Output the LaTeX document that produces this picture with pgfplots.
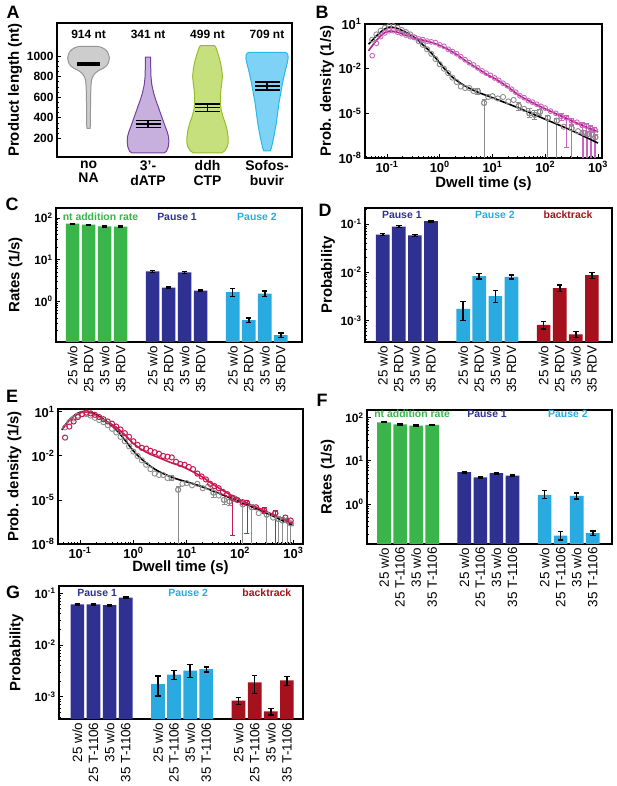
\documentclass[border=0pt]{standalone}
\usepackage{fontspec}
\setmainfont{Liberation Sans}
\usepackage{pgfplots}
\usepackage{pgfplotstable}
\pgfplotsset{compat=1.18}

\definecolor{ntgreen}{RGB}{57,181,74}
\definecolor{pnavy}{RGB}{46,49,146}
\definecolor{pcyan}{RGB}{41,171,226}
\definecolor{btred}{RGB}{166,17,30}
\definecolor{dgray}{RGB}{140,140,140}
\definecolor{magline}{RGB}{175,35,135}
\definecolor{magpt}{RGB}{205,100,190}
\definecolor{crim}{RGB}{200,25,80}
\definecolor{vgrayf}{RGB}{205,205,205}\definecolor{vgrayd}{RGB}{150,150,150}
\definecolor{vpurf}{RGB}{200,176,222}\definecolor{vpurd}{RGB}{115,65,160}
\definecolor{vgrnf}{RGB}{198,224,125}\definecolor{vgrnd}{RGB}{150,190,40}
\definecolor{vbluf}{RGB}{125,210,245}\definecolor{vblud}{RGB}{40,185,235}

\newcommand{\tp}[1]{10\textsuperscript{#1}}

\pgfplotsset{
  mypanel/.style={scale only axis, anchor=south west,
    axis line style={line width=1.4pt}, tick style={black, line width=0.9pt},
    tick pos=left, major tick length=4pt, minor tick length=2.2pt,
    ticklabel style={font=\fontsize{12}{12}\selectfont\bfseries},
    label style={font=\fontsize{15}{16}\selectfont\bfseries}},
  mybarpanel/.style={mypanel,
    xtick={0,1,2,3,5,6,7,8,10,11,12,13}, xtick style={draw=none},
    xticklabel style={rotate=90, anchor=east, font=\fontsize{13.5}{14}\selectfont}},
  mybars/.style={ybar, bar width=0.85, bar shift=0pt, draw=none, fill=#1,
    error bars/y dir=both, error bars/y explicit,
    error bars/error bar style={black, line width=1.6pt},
    error bars/error mark options={rotate=90, black, line width=1.4pt, mark size=2.8pt}},
  myerrs/.style={error bars/y dir=both, error bars/y explicit,
    error bars/error bar style={#1, line width=0.9pt},
    error bars/error mark options={rotate=90, #1, line width=0.9pt, mark size=2.5pt}},
  mydwell/.style={mypanel,
    xtick={0.1,1,10,100,1000}, xticklabels={\tp{-1},\tp{0},\tp{1},\tp{2},\tp{3}},
    minor xtick={0.04,0.05,0.06,0.07,0.08,0.09,0.2,0.3,0.4,0.5,0.6,0.7,0.8,0.9,2,3,4,5,6,7,8,9,20,30,40,50,60,70,80,90,200,300,400,500,600,700,800,900},
    ytick={1e-8,1e-5,1e-2,10}, yticklabels={\tp{-8},\tp{-5},\tp{-2},\tp{1}},
    ticklabel style={font=\fontsize{13}{13}\selectfont\bfseries},
    xlabel={Dwell time (s)}, ylabel={Prob. density (1/s)}},
  graypts/.style={only marks, mark=o, mark size=2.6pt, dgray, mark options={line width=0.9pt}},
  magpts/.style={only marks, mark=o, mark size=2.4pt, magpt, mark options={line width=0.9pt}},
  crimpts/.style={only marks, mark=o, mark size=2.6pt, crim, mark options={line width=1pt}},
}

% control dwell-time data (grey), shared by B and E
\pgfplotstableread{
x y
0.0525 0.891
0.0631 1.995
0.0759 3.548
0.0912 5.623
0.1096 7.079
0.1318 7.079
0.1585 5.623
0.1905 3.981
0.2291 2.818
0.2754 1.995
0.3311 1.259
0.3981 0.708
0.4786 0.398
0.5754 0.1995
0.6918 0.1
0.8318 0.0447
1.0 0.01995
1.202 0.01
1.445 5.01e-3
1.738 2.51e-3
2.089 1.26e-3
2.512 6.31e-4
3.02 5.01e-4
3.631 5.01e-4
4.365 3.16e-4
5.248 3.16e-4
6.918 5.01e-5
8.318 1.26e-4
10 1.41e-4
12.59 1e-4
15.85 1.26e-4
19.95 6.31e-5
25.12 7.94e-5
31.62 3.16e-5
39.81 2.0e-5
50.12 1e-5
63.1 7.94e-6
79.43 1.26e-5
112.2 5.01e-6
166 3.16e-6
223.9 1.26e-6
316.2 1e-6
416.9 6.31e-7
524.8 5.01e-7
631 3.98e-7
758.6 3.98e-7
891.3 2.51e-7
}\graydata
\pgfplotstableread{
x y ep em
5.248 3.16e-4 1.85e-4 1.16e-4
6.918 5.01e-5 3.9e-5 5.0099e-5
31.62 3.16e-5 2.5e-5 1.6e-5
50.12 1e-5 1e-5 5e-6
63.1 7.94e-6 7.9e-6 4e-6
79.43 1.26e-5 6e-6 5e-6
112.2 5.01e-6 2e-6 5.009e-6
166 3.16e-6 1.5e-6 3.159e-6
316.2 1e-6 5e-7 9.99e-7
524.8 5.01e-7 2e-7 4.99e-7
631 3.98e-7 2e-7 3.97e-7
758.6 3.98e-7 1.5e-7 3.97e-7
891.3 2.51e-7 1.2e-7 2.5e-7
}\grayerr

\pgfplotstableread{
x y
0.0525 0.0741
0.0631 0.501
0.0759 1.413
0.0912 2.512
0.1096 3.548
0.1318 3.548
0.1585 2.818
0.1905 2.239
0.2291 1.778
0.2754 1.413
0.3311 1.259
0.3981 1.0
0.4786 0.891
0.5754 0.708
0.6918 0.631
0.8318 0.562
1.0 0.398
1.202 0.316
1.445 0.1995
1.738 0.1413
2.089 0.1
2.512 0.0631
3.02 0.0398
3.631 0.0251
4.365 0.0178
5.248 0.0112
6.31 7.08e-3
7.586 5.01e-3
9.12 3.55e-3
10.96 2.38e-3
13.18 1.66e-3
15.85 1.05e-3
19.05 7.08e-4
22.91 4.17e-4
27.54 2.63e-4
33.11 1.5e-4
39.81 1.12e-4
47.86 7.08e-5
57.54 5.62e-5
69.18 4.07e-5
83.18 2.95e-5
100 2.24e-5
125.9 1.41e-5
158.5 1.0e-5
199.5 6.31e-6
251.2 5.01e-6
316.2 3.16e-6
398.1 2.51e-6
501.2 1.585e-6
602.6 1.41e-6
724.4 1e-6
871 7.94e-7
}\magdata
\pgfplotstableread{
x y ep em
199.5 6.31e-6 3e-6 3e-6
251.2 5.01e-6 2e-6 4.96e-6
316.2 3.16e-6 1.5e-6 1.5e-6
501.2 1.585e-6 8e-7 1.584e-6
602.6 1.41e-6 7e-7 1.409e-6
724.4 1e-6 5e-7 9.99e-7
871 7.94e-7 4e-7 7.93e-7
}\magerr

\pgfplotstableread{
x y
0.0525 0.178
0.0631 1.0
0.0759 2.239
0.0912 4.467
0.1096 7.079
0.1318 8.913
0.1585 7.943
0.1905 6.31
0.2291 4.467
0.2754 3.162
0.3311 2.239
0.3981 1.585
0.4786 1.0
0.5754 0.631
0.6918 0.355
0.8318 0.1995
1.0 0.1
1.202 0.0562
1.445 0.0355
1.738 0.0316
2.089 0.0224
2.512 0.0178
3.02 0.0141
3.631 0.01
4.365 8.91e-3
5.248 7.94e-3
6.31 3.98e-3
7.586 2.82e-3
9.12 2.51e-3
10.96 1.78e-3
13.18 1.26e-3
15.85 6.31e-4
19.05 3.98e-4
22.91 2.51e-4
27.54 1.26e-4
33.11 8.91e-5
39.81 6.31e-5
47.86 3.55e-5
57.54 2.51e-5
70.79 1.41e-5
89.13 1e-5
112.2 7.08e-6
134.9 6.31e-6
199.5 3.16e-6
281.8 2.0e-6
457.1 1.26e-6
707.9 6.31e-7
891.3 3.98e-7
}\crimdata
\pgfplotstableread{
x y ep em
70.79 1.41e-5 4e-6 1.406e-5
134.9 6.31e-6 2.5e-6 6.26e-6
281.8 2.0e-6 1e-6 8e-7
457.1 1.26e-6 6e-7 1.259e-6
}\crimerr

\begin{document}
\begin{tikzpicture}
\path[use as bounding box] (0,0) rectangle (617bp,786bp);

% ---------------- A: violins
\begin{axis}[mypanel, at={(57bp,629bp)}, width=235bp, height=134bp,
  xmin=0.47, xmax=4.42, ymin=20, ymax=1322,
  ytick={200,400,600,800,1000}, yticklabels={200,400,600,800,1000},
  minor y tick num=3,
  xtick={1,2,3,4}, xticklabels={{no\\NA},{3’-\\dATP},{ddh\\CTP},{Sofos-\\buvir}},
  xtick style={draw=none},
  xticklabel style={align=center, font=\fontsize{14}{15}\selectfont\bfseries},
  ylabel={Product length (nt)},
  ylabel style={at={(axis description cs:-0.179,0.5)}, anchor=center}]
\addplot[fill=vgrayf, draw=vgrayd, line width=1pt] coordinates {
 (0.975,298) (0.97,320) (0.968,450) (0.965,600) (0.96,700) (0.95,769) (0.93,800)
 (0.89,834) (0.83,860) (0.75,883) (0.70,905) (0.67,930) (0.655,960) (0.65,985)
 (0.66,1010) (0.68,1040) (0.72,1065) (0.78,1085) (0.84,1094)
 (1.16,1094) (1.22,1085) (1.28,1065) (1.32,1040) (1.34,1010) (1.35,985) (1.345,960)
 (1.33,930) (1.30,905) (1.25,883) (1.17,860) (1.11,834) (1.07,800) (1.05,769)
 (1.04,700) (1.035,600) (1.032,450) (1.03,320) (1.025,298)} -- cycle;
\addplot[fill=vpurf, draw=vpurd, line width=1pt] coordinates {
 (1.73,60) (1.69,75) (1.66,119) (1.65,170) (1.655,216) (1.675,260) (1.71,314)
 (1.75,379) (1.79,444) (1.83,510) (1.87,574) (1.905,640) (1.93,704) (1.94,737)
 (1.95,800) (1.955,900) (1.955,990)
 (2.045,990) (2.045,900) (2.05,800) (2.06,737) (2.07,704) (2.095,640) (2.13,574)
 (2.17,510) (2.21,444) (2.25,379) (2.29,314) (2.325,260) (2.345,216) (2.35,170)
 (2.34,119) (2.31,75) (2.27,60)} -- cycle;
\addplot[fill=vgrnf, draw=vgrnd, line width=1pt] coordinates {
 (2.76,60) (2.71,80) (2.67,119) (2.655,151) (2.655,216) (2.67,281) (2.70,346)
 (2.74,411) (2.77,476) (2.785,541) (2.785,607) (2.775,672) (2.76,737) (2.75,802)
 (2.76,867) (2.78,932) (2.81,997) (2.84,1050) (2.86,1085) (2.88,1101)
 (3.12,1101) (3.14,1085) (3.16,1050) (3.19,997) (3.22,932) (3.24,867) (3.25,802)
 (3.24,737) (3.225,672) (3.215,607) (3.215,541) (3.23,476) (3.26,411) (3.30,346)
 (3.33,281) (3.345,216) (3.345,151) (3.33,119) (3.29,80) (3.24,60)} -- cycle;
\addplot[fill=vbluf, draw=vblud, line width=1pt] coordinates {
 (3.945,80) (3.93,102) (3.91,151) (3.885,216) (3.865,281) (3.845,346) (3.83,411)
 (3.815,476) (3.80,541) (3.78,607) (3.76,672) (3.74,737) (3.715,802) (3.69,867)
 (3.66,932) (3.645,980) (3.65,1015) (3.67,1030) (3.70,1036)
 (4.30,1036) (4.33,1030) (4.35,1015) (4.355,980) (4.34,932) (4.31,867) (4.285,802)
 (4.26,737) (4.24,672) (4.22,607) (4.20,541) (4.185,476) (4.17,411) (4.155,346)
 (4.135,281) (4.115,216) (4.09,151) (4.07,102) (4.055,80)} -- cycle;
% means and standard errors
\addplot[black, line width=4pt] coordinates {(0.81,925) (1.19,925)};
\addplot[black, line width=1.5pt] coordinates {(1.79,305) (2.21,305)};
\addplot[black, line width=1.5pt] coordinates {(1.79,341) (2.21,341)};
\addplot[black, line width=1.5pt] coordinates {(1.79,377) (2.21,377)};
\addplot[black, line width=1.5pt] coordinates {(2,305) (2,377)};
\addplot[black, line width=1.5pt] coordinates {(2.79,464) (3.21,464)};
\addplot[black, line width=1.5pt] coordinates {(2.79,499) (3.21,499)};
\addplot[black, line width=1.5pt] coordinates {(2.79,534) (3.21,534)};
\addplot[black, line width=1.5pt] coordinates {(3,464) (3,534)};
\addplot[black, line width=1.5pt] coordinates {(3.79,670) (4.21,670)};
\addplot[black, line width=1.5pt] coordinates {(3.79,709) (4.21,709)};
\addplot[black, line width=1.5pt] coordinates {(3.79,748) (4.21,748)};
\addplot[black, line width=1.5pt] coordinates {(4,670) (4,748)};
\node[font=\fontsize{12}{12}\selectfont\bfseries] at (axis cs:1,1208) {914 nt};
\node[font=\fontsize{12}{12}\selectfont\bfseries] at (axis cs:2,1208) {341 nt};
\node[font=\fontsize{12}{12}\selectfont\bfseries] at (axis cs:3,1208) {499 nt};
\node[font=\fontsize{12}{12}\selectfont\bfseries] at (axis cs:4,1208) {709 nt};
\end{axis}

% ---------------- B: dwell times, control vs drug
\begin{axis}[mydwell, xmode=log, ymode=log, at={(365bp,628bp)}, width=237bp, height=134bp,
  xmin=0.0383, xmax=1190, ymin=1e-8, ymax=10,
  ylabel style={at={(axis description cs:-0.16,0.5)}, anchor=center},
  xlabel style={at={(axis description cs:0.5,-0.194)}, anchor=center}]
\addplot[graypts, myerrs=dgray] table[x=x, y=y, y error plus=ep, y error minus=em] {\grayerr};
\addplot[graypts] table[x=x, y=y] {\graydata};
\addplot[magpts, myerrs=magpt] table[x=x, y=y, y error plus=ep, y error minus=em] {\magerr};
\addplot[magpts] table[x=x, y=y] {\magdata};
\addplot[black, line width=1.6pt, smooth] coordinates {
 (0.0447,0.437) (0.0631,1.585) (0.0891,4.467) (0.1148,6.31) (0.1585,5.012)
 (0.2239,2.818) (0.3162,1.413) (0.4467,0.501) (0.631,0.158) (0.8913,0.0398)
 (1.259,8.91e-3) (1.778,2.51e-3) (2.818,7.94e-4) (5.012,2.82e-4) (10,1.12e-4)
 (31.62,2.24e-5) (100,3.98e-6) (316.2,7.08e-7) (1000,1e-7)};
\addplot[magline, line width=1.6pt, smooth] coordinates {
 (0.0447,0.158) (0.0631,0.794) (0.0891,2.512) (0.1148,3.388) (0.1585,2.818)
 (0.2239,1.778) (0.3162,1.202) (0.5012,0.794) (0.7943,0.501) (1.259,0.251)
 (1.995,0.1) (3.162,0.0316) (5.012,0.0112) (7.943,3.98e-3) (12.59,1.66e-3)
 (19.95,5.62e-4) (31.62,1.66e-4) (50.12,6.61e-5) (100,2.0e-5) (316.2,3.16e-6)
 (1000,5.62e-7)};
\end{axis}

% ---------------- C: rates with RDV
\begin{axis}[mybarpanel, ymode=log, log origin=infty, at={(56bp,444bp)}, width=246bp, height=134bp,
  xmin=-1.04, xmax=14.33, ymin=0.106, ymax=174,
  ytick={1,10,100}, yticklabels={\tp{0},\tp{1},\tp{2}},
  minor ytick={0.2,0.3,0.4,0.5,0.6,0.7,0.8,0.9,2,3,4,5,6,7,8,9,20,30,40,50,60,70,80,90},
  xticklabels={25 w/o,25 RDV,35 w/o,35 RDV,25 w/o,25 RDV,35 w/o,35 RDV,25 w/o,25 RDV,35 w/o,35 RDV},
  ylabel={Rates (1/s)},
  ylabel style={at={(axis description cs:-0.165,0.5)}, anchor=center}]
\addplot[mybars=ntgreen] coordinates {(0,73) +- (0,2) (1,69) +- (0,2) (2,63) +- (0,2) (3,62) +- (0,2)};
\addplot[mybars=pnavy] coordinates {(5,5.25) +- (0,0.25) (6,2.13) +- (0,0.1) (7,4.97) +- (0,0.25) (8,1.8) +- (0,0.08)};
\addplot[mybars=pcyan] coordinates {(10,1.67) += (0,0.34) -= (0,0.35) (11,0.356) +- (0,0.042)
  (12,1.53) += (0,0.24) -= (0,0.21) (13,0.155) +- (0,0.02)};
\node[font=\fontsize{10.5}{11}\selectfont\bfseries, text=ntgreen] at (axis description cs:0.181,0.935) {nt addition rate};
\node[font=\fontsize{10.5}{11}\selectfont\bfseries, text=pnavy] at (axis description cs:0.492,0.935) {Pause 1};
\node[font=\fontsize{10.5}{11}\selectfont\bfseries, text=pcyan] at (axis description cs:0.817,0.935) {Pause 2};
\end{axis}

% ---------------- D: probabilities with RDV
\begin{axis}[mybarpanel, ymode=log, log origin=infty, at={(365bp,444bp)}, width=247bp, height=134bp,
  xmin=-1.1, xmax=14.25, ymin=3.6e-4, ymax=0.214,
  ytick={1e-3,1e-2,1e-1}, yticklabels={\tp{-3},\tp{-2},\tp{-1}},
  minor ytick={4e-4,5e-4,6e-4,7e-4,8e-4,9e-4,2e-3,3e-3,4e-3,5e-3,6e-3,7e-3,8e-3,9e-3,0.02,0.03,0.04,0.05,0.06,0.07,0.08,0.09,0.2},
  xticklabels={25 w/o,25 RDV,35 w/o,35 RDV,25 w/o,25 RDV,35 w/o,35 RDV,25 w/o,25 RDV,35 w/o,35 RDV},
  ylabel={Probability},
  ylabel style={at={(axis description cs:-0.15,0.5)}, anchor=center}]
\addplot[mybars=pnavy] coordinates {(0,0.060) +- (0,0.003) (1,0.088) +- (0,0.004) (2,0.058) +- (0,0.003) (3,0.114) +- (0,0.004)};
\addplot[mybars=pcyan] coordinates {(5,1.75e-3) +- (0,0.75e-3) (6,8.3e-3) +- (0,1.1e-3)
  (7,3.2e-3) += (0,1.05e-3) -= (0,0.8e-3) (8,8.0e-3) +- (0,0.8e-3)};
\addplot[mybars=btred] coordinates {(10,8.1e-4) +- (0,1.4e-4) (11,4.7e-3) +- (0,0.7e-3)
  (12,5.2e-4) +- (0,0.75e-4) (13,8.7e-3) +- (0,1.2e-3)};
\node[font=\fontsize{10.5}{11}\selectfont\bfseries, text=pnavy] at (axis description cs:0.149,0.948) {Pause 1};
\node[font=\fontsize{10.5}{11}\selectfont\bfseries, text=pcyan] at (axis description cs:0.526,0.948) {Pause 2};
\node[font=\fontsize{10.5}{11}\selectfont\bfseries, text=btred] at (axis description cs:0.822,0.948) {backtrack};
\end{axis}

% ---------------- E: dwell times, control vs T-1106
\begin{axis}[mydwell, xmode=log, ymode=log, at={(58bp,242bp)}, width=245bp, height=135bp,
  xmin=0.0387, xmax=1514, ymin=1e-8, ymax=15.8,
  ylabel style={at={(axis description cs:-0.178,0.5)}, anchor=center},
  xlabel style={at={(axis description cs:0.5,-0.174)}, anchor=center}]
\addplot[graypts, myerrs=dgray] table[x=x, y=y, y error plus=ep, y error minus=em] {\grayerr};
\addplot[graypts] table[x=x, y=y] {\graydata};
\addplot[crimpts, myerrs=crim] table[x=x, y=y, y error plus=ep, y error minus=em] {\crimerr};
\addplot[crimpts] table[x=x, y=y] {\crimdata};
\addplot[black, line width=1.6pt, smooth] coordinates {
 (0.0457,0.603) (0.0631,2.818) (0.0891,7.943) (0.1259,11.22) (0.1778,7.943)
 (0.2512,3.981) (0.3548,1.585) (0.5012,0.501) (0.7079,0.1122) (1.0,0.0224)
 (1.413,6.31e-3) (1.995,2.24e-3) (3.162,7.94e-4) (6.31,2.82e-4) (17.78,8.91e-5)
 (75.86,1.12e-5) (316.2,1.26e-6) (1000,1.78e-7)};
\addplot[crim, line width=1.6pt, smooth] coordinates {
 (0.0468,0.692) (0.0631,2.818) (0.0891,7.079) (0.1259,10) (0.1778,7.079)
 (0.2512,3.548) (0.3548,1.778) (0.5012,0.794) (0.7079,0.251) (1.0,0.0708)
 (1.413,0.0282) (1.995,0.0141) (3.162,7.08e-3) (5.012,3.55e-3) (7.943,2.0e-3)
 (12.59,8.91e-4) (19.95,3.55e-4) (31.62,1.12e-4) (50.12,3.98e-5) (100,1e-5)
 (316.2,1.585e-6) (1000,2.24e-7)};
\end{axis}

% ---------------- F: rates with T-1106
\begin{axis}[mybarpanel, ymode=log, log origin=infty, at={(367bp,242bp)}, width=245bp, height=134bp,
  xmin=-1.06, xmax=14.2, ymin=0.121, ymax=150,
  ytick={1,10,100}, yticklabels={\tp{0},\tp{1},\tp{2}},
  minor ytick={0.2,0.3,0.4,0.5,0.6,0.7,0.8,0.9,2,3,4,5,6,7,8,9,20,30,40,50,60,70,80,90},
  xticklabels={25 w/o,25 T-1106,35 w/o,35 T-1106,25 w/o,25 T-1106,35 w/o,35 T-1106,25 w/o,25 T-1106,35 w/o,35 T-1106},
  ylabel={Rates (1/s)},
  ylabel style={at={(axis description cs:-0.16,0.5)}, anchor=center}]
\addplot[mybars=ntgreen] coordinates {(0,78) +- (0,2) (1,70) +- (0,2) (2,65) +- (0,2) (3,68) +- (0,2)};
\addplot[mybars=pnavy] coordinates {(5,5.5) +- (0,0.2) (6,4.2) +- (0,0.15) (7,5.2) +- (0,0.2) (8,4.6) +- (0,0.15)};
\addplot[mybars=pcyan] coordinates {(10,1.64) += (0,0.46) -= (0,0.27) (11,0.19) += (0,0.048) -= (0,0.04)
  (12,1.56) += (0,0.26) -= (0,0.23) (13,0.215) +- (0,0.027)};
\node[font=\fontsize{10.5}{11}\selectfont\bfseries, text=ntgreen] at (axis description cs:0.184,0.97) {nt addition rate};
\node[font=\fontsize{10.5}{11}\selectfont\bfseries, text=pnavy] at (axis description cs:0.49,0.97) {Pause 1};
\node[font=\fontsize{10.5}{11}\selectfont\bfseries, text=pcyan] at (axis description cs:0.82,0.97) {Pause 2};
\end{axis}

% ---------------- G: probabilities with T-1106
\begin{axis}[mybarpanel, ymode=log, log origin=infty, at={(59bp,67bp)}, width=244bp, height=133bp,
  xmin=-1.14, xmax=14.0, ymin=3.7e-4, ymax=0.138,
  ytick={1e-3,1e-2,1e-1}, yticklabels={\tp{-3},\tp{-2},\tp{-1}},
  minor ytick={4e-4,5e-4,6e-4,7e-4,8e-4,9e-4,2e-3,3e-3,4e-3,5e-3,6e-3,7e-3,8e-3,9e-3,0.02,0.03,0.04,0.05,0.06,0.07,0.08,0.09},
  xticklabels={25 w/o,25 T-1106,35 w/o,35 T-1106,25 w/o,25 T-1106,35 w/o,35 T-1106,25 w/o,25 T-1106,35 w/o,35 T-1106},
  ylabel={Probability},
  ylabel style={at={(axis description cs:-0.174,0.5)}, anchor=center}]
\addplot[mybars=pnavy] coordinates {(0,0.061) +- (0,0.002) (1,0.061) +- (0,0.002) (2,0.059) +- (0,0.002) (3,0.082) +- (0,0.003)};
\addplot[mybars=pcyan] coordinates {(5,1.75e-3) += (0,0.75e-3) -= (0,0.72e-3) (6,2.67e-3) +- (0,0.5e-3)
  (7,3.2e-3) += (0,1.0e-3) -= (0,0.87e-3) (8,3.4e-3) +- (0,0.38e-3)};
\addplot[mybars=btred] coordinates {(10,8.4e-4) +- (0,1.3e-4) (11,1.9e-3) += (0,0.7e-3) -= (0,0.74e-3)
  (12,5.2e-4) +- (0,0.75e-4) (13,2.07e-3) +- (0,0.41e-3)};
\node[font=\fontsize{10.5}{11}\selectfont\bfseries, text=pnavy] at (axis description cs:0.156,0.947) {Pause 1};
\node[font=\fontsize{10.5}{11}\selectfont\bfseries, text=pcyan] at (axis description cs:0.529,0.947) {Pause 2};
\node[font=\fontsize{10.5}{11}\selectfont\bfseries, text=btred] at (axis description cs:0.852,0.947) {backtrack};
\end{axis}

% panel letters
\node[font=\fontsize{18}{18}\selectfont\bfseries] at (13bp,774bp) {A};
\node[font=\fontsize{18}{18}\selectfont\bfseries] at (322bp,774bp) {B};
\node[font=\fontsize{18}{18}\selectfont\bfseries] at (12bp,582bp) {C};
\node[font=\fontsize{18}{18}\selectfont\bfseries] at (325bp,576bp) {D};
\node[font=\fontsize{18}{18}\selectfont\bfseries] at (12bp,390bp) {E};
\node[font=\fontsize{18}{18}\selectfont\bfseries] at (322bp,386bp) {F};
\node[font=\fontsize{18}{18}\selectfont\bfseries] at (13bp,194bp) {G};
\end{tikzpicture}
\end{document}
